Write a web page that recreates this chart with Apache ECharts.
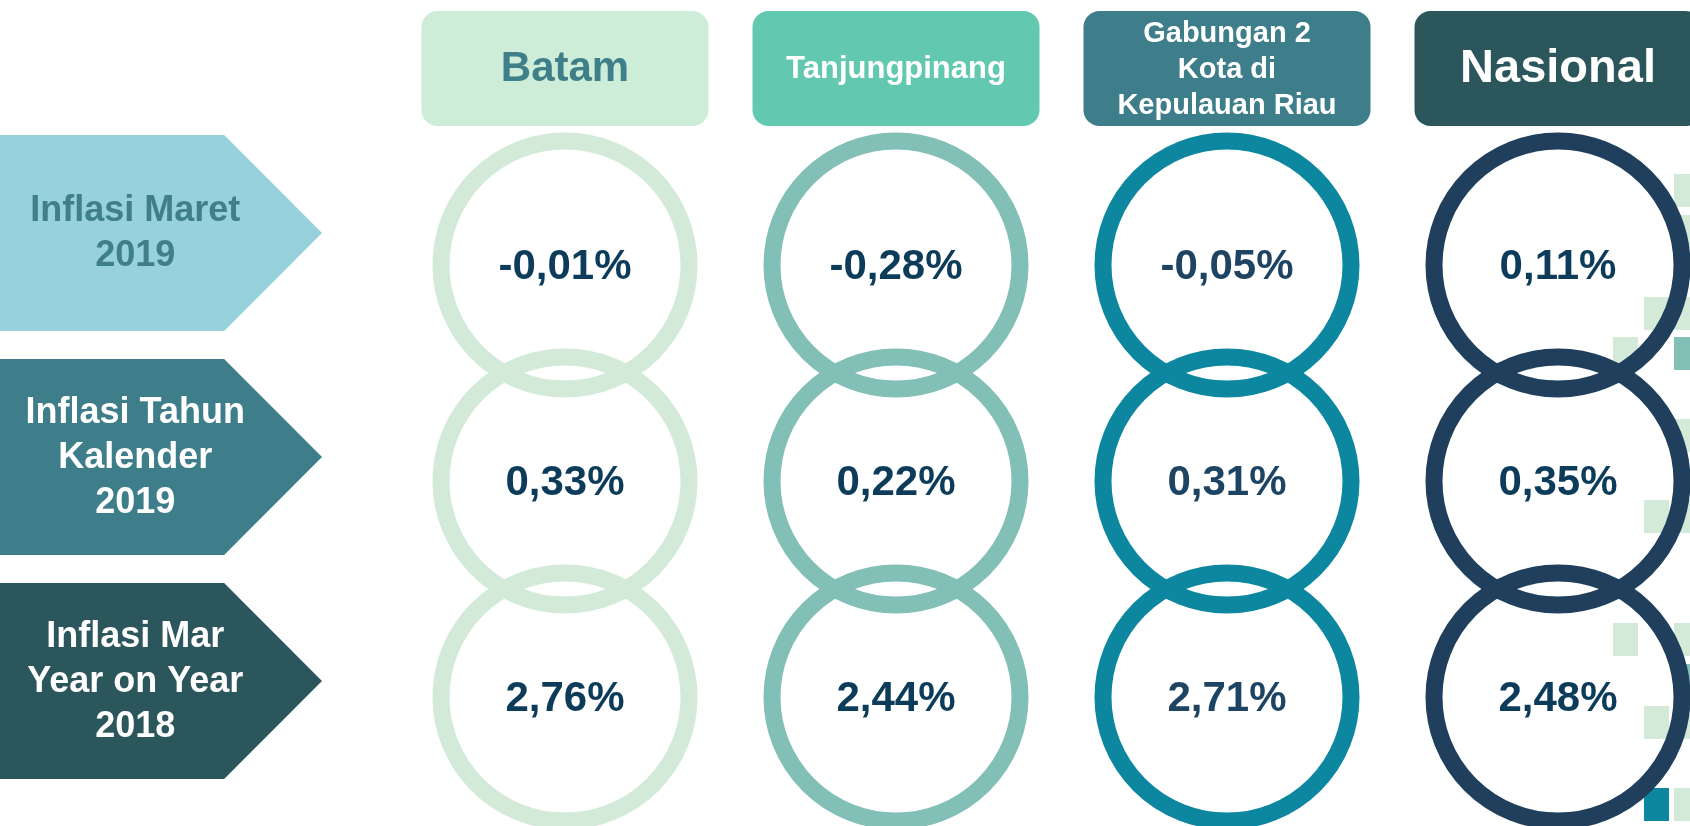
<!DOCTYPE html>
<html lang="id">
<head>
    <meta charset="UTF-8">
    <script type="text/javascript" src="https://cdn.jsdelivr.net/npm/echarts@6/dist/echarts.min.js"></script>
    <title>Inflasi Kepri</title>
    <style>
        html, body { margin: 0; padding: 0; background: #fff; }
        #chart { width: 1690px; height: 826px; }
    </style>
</head>
<body>
<div id="chart"></div>
<script type="text/javascript">
    // kolom (kota) dan baris (jenis inflasi)
    var cities = ['Batam', 'Tanjungpinang', 'Gabungan 2\nKota di\nKepulauan Riau', 'Nasional'];
    var rows = ['Inflasi Maret\n2019', 'Inflasi Tahun\nKalender\n2019', 'Inflasi Mar\nYear on Year\n2018'];

    // nilai inflasi (%) per kota, urut sesuai rows
    var batam = [-0.01, 0.33, 2.76];
    var tanjungpinang = [-0.28, 0.22, 2.44];
    var gabungan = [-0.05, 0.31, 2.71];
    var nasional = [0.11, 0.35, 2.48];

    var FONT = '"Liberation Sans", Arial, sans-serif';
    var ringColors = ['#D3EAD8', '#82BFB7', '#0D87A0', '#1F3F5C'];
    var valueColors = ['#0C3C5A', '#0C3C5A', '#1E4463', '#0C3C5A'];
    var headerFill = ['#CDEDD8', '#62C9B0', '#3E7E8A', '#2B565C'];
    var headerText = ['#3E7F89', '#ffffff', '#ffffff', '#ffffff'];
    var headerSize = [42, 31, 29, 47];
    var rowFill = ['#96D1DC', '#3E7E8A', '#2B565C'];
    var rowText = ['#3E7F89', '#ffffff', '#ffffff'];

    function fmt(v) {
        return v.toFixed(2).replace('.', ',') + '%';
    }

    var ringData = [];
    [batam, tanjungpinang, gabungan, nasional].forEach(function (arr, ci) {
        arr.forEach(function (v, ri) {
            ringData.push([ci, ri, v]);
        });
    });

    var hidden = {
        show: false,
        axisLine: {show: false},
        axisTick: {show: false},
        axisLabel: {show: false},
        splitLine: {show: false}
    };
    function axis(extra) {
        return Object.assign({}, hidden, extra);
    }

    // kotak hias kecil di tepi kanan
    var deco = [
        [1674, 174, '#D3EAD8'], [1674, 215, '#D3EAD8'],
        [1644, 297, '#D3EAD8'], [1674, 297, '#D3EAD8'],
        [1613, 337, '#D3EAD8'], [1674, 337, '#82BFB7'],
        [1674, 419, '#D3EAD8'],
        [1644, 500, '#D3EAD8'], [1674, 500, '#D3EAD8'],
        [1613, 623, '#D3EAD8'], [1674, 623, '#D3EAD8'],
        [1674, 664, '#82BFB7'],
        [1644, 706, '#D3EAD8'], [1674, 706, '#D3EAD8'],
        [1644, 788, '#0D87A0'], [1674, 788, '#D3EAD8']
    ];

    var chart = echarts.init(document.getElementById('chart'), null, {renderer: 'canvas'});
    chart.setOption({
        backgroundColor: '#ffffff',
        animation: false,
        graphic: deco.map(function (d) {
            return {
                type: 'rect', z: 0,
                shape: {x: d[0], y: d[1], width: 25, height: 33},
                style: {fill: d[2]}
            };
        }),
        grid: [
            // lingkaran nilai (titik tepat di tepi grid)
            {left: 565, width: 993, top: 157, height: 648},
            // judul kota
            {left: 565, width: 993, top: 11, height: 115},
            // label baris (panah)
            {left: 0, width: 322, top: 121, height: 672}
        ],
        xAxis: [
            axis({type: 'category', gridIndex: 0, data: cities, boundaryGap: false}),
            axis({type: 'category', gridIndex: 1, data: cities, boundaryGap: false}),
            axis({type: 'value', gridIndex: 2, min: 0, max: 1})
        ],
        yAxis: [
            axis({type: 'category', gridIndex: 0, data: rows, inverse: true}),
            axis({type: 'category', gridIndex: 1, data: ['kota']}),
            axis({type: 'category', gridIndex: 2, data: rows, inverse: true})
        ],
        series: [
            {
                type: 'custom',
                name: 'nilai',
                xAxisIndex: 0, yAxisIndex: 0,
                z: 5,
                clip: false,
                data: ringData,
                renderItem: function (params, api) {
                    var ci = api.value(0), ri = api.value(1);
                    var p = api.coord([ci, ri]);
                    return {
                        type: 'group',
                        children: [{
                            type: 'circle',
                            shape: {cx: p[0], cy: p[1], r: 124},
                            style: {fill: 'none', stroke: ringColors[ci], lineWidth: 17}
                        }, {
                            type: 'text',
                            style: {
                                text: fmt(api.value(2)),
                                x: p[0], y: p[1] + 2,
                                align: 'center', verticalAlign: 'middle',
                                fontSize: 42, fontWeight: 'bold', fontFamily: FONT,
                                fill: valueColors[ci]
                            }
                        }]
                    };
                }
            },
            {
                type: 'custom',
                name: 'kota',
                xAxisIndex: 1, yAxisIndex: 1,
                z: 5,
                clip: false,
                data: cities.map(function (c, i) { return [i, 0]; }),
                renderItem: function (params, api) {
                    var i = api.value(0);
                    var p = api.coord([i, 0]);
                    var h = api.size([0, 1])[1];
                    var w = 287;
                    return {
                        type: 'group',
                        children: [{
                            type: 'rect',
                            shape: {x: p[0] - w / 2, y: p[1] - h / 2, width: w, height: h, r: 16},
                            style: {fill: headerFill[i]}
                        }, {
                            type: 'text',
                            style: {
                                text: cities[i],
                                x: p[0], y: p[1] + 1,
                                align: 'center', verticalAlign: 'middle',
                                fontSize: headerSize[i], lineHeight: 36,
                                fontWeight: 'bold', fontFamily: FONT,
                                fill: headerText[i]
                            }
                        }]
                    };
                }
            },
            {
                type: 'custom',
                name: 'baris',
                xAxisIndex: 2, yAxisIndex: 2,
                z: 5,
                clip: false,
                data: rows.map(function (r, i) { return [0, i]; }),
                renderItem: function (params, api) {
                    var i = api.value(1);
                    var p = api.coord([0, i]);
                    var tip = api.coord([1, i])[0];
                    var h = api.size([0, 1])[1] - 28;
                    var x0 = p[0], cy = p[1];
                    var body = x0 + (tip - x0) * 0.696;
                    return {
                        type: 'group',
                        children: [{
                            type: 'polygon',
                            shape: {points: [
                                [x0, cy - h / 2], [body, cy - h / 2], [tip, cy],
                                [body, cy + h / 2], [x0, cy + h / 2]
                            ]},
                            style: {fill: rowFill[i]}
                        }, {
                            type: 'text',
                            style: {
                                text: rows[i],
                                x: x0 + (tip - x0) * 0.42, y: cy + 1,
                                align: 'center', verticalAlign: 'middle',
                                fontSize: 36, lineHeight: 45,
                                fontWeight: 'bold', fontFamily: FONT,
                                fill: rowText[i]
                            }
                        }]
                    };
                }
            }
        ]
    });
</script>
</body>
</html>
